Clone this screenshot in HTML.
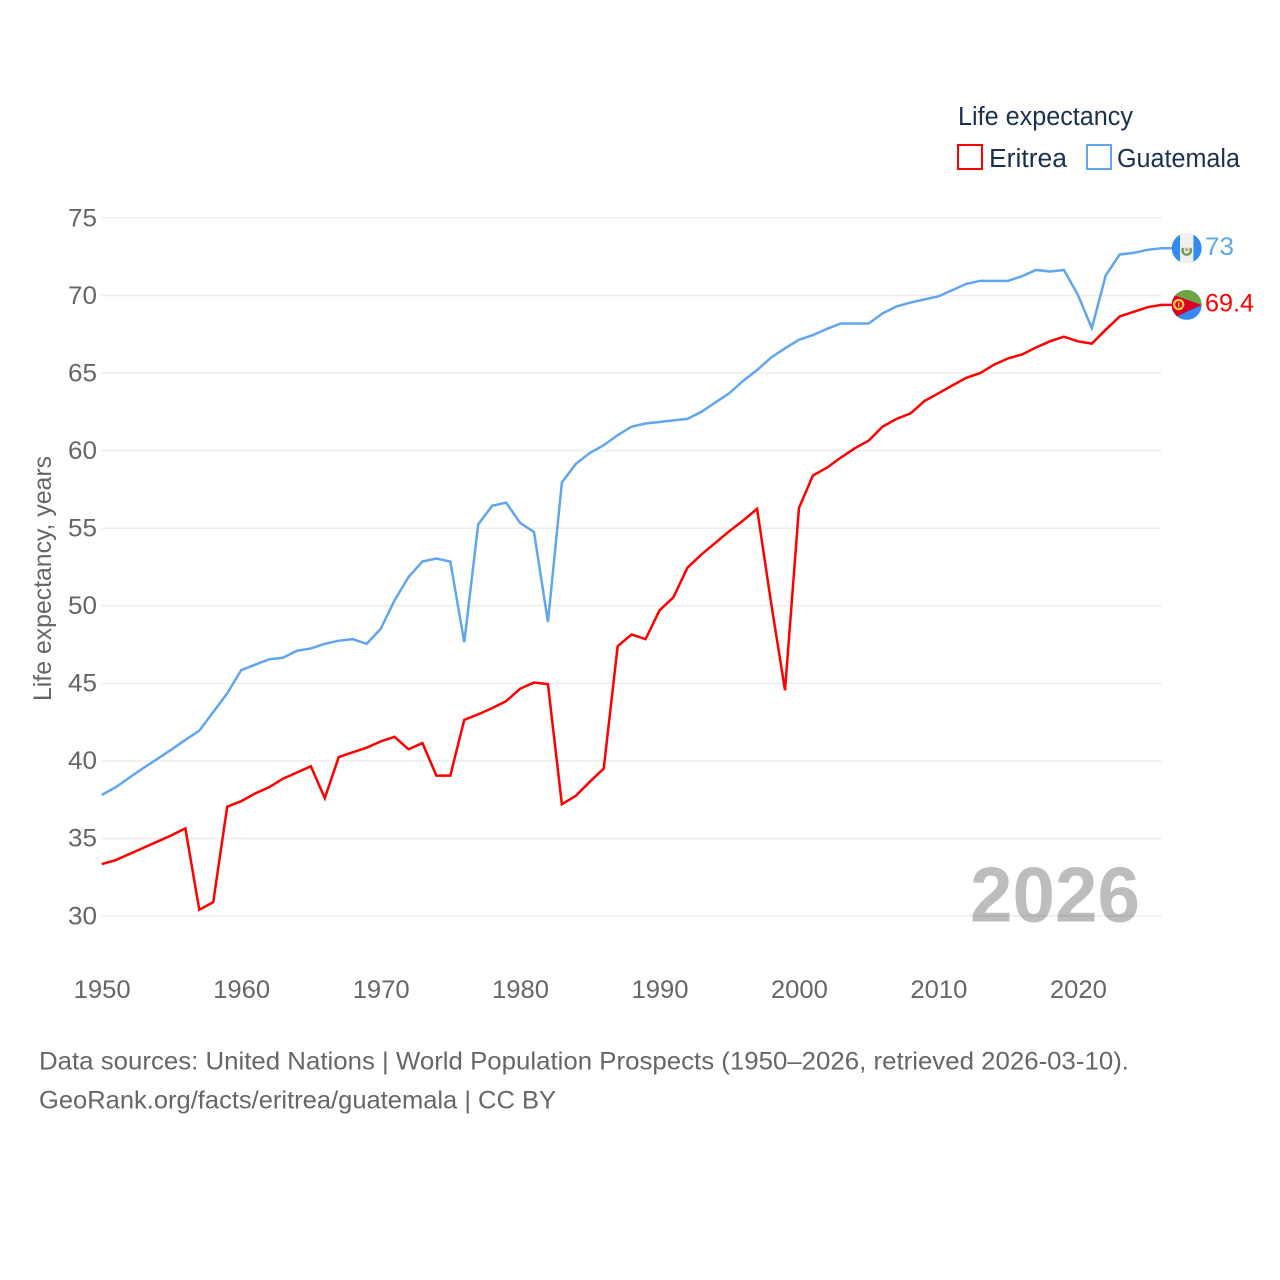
<!DOCTYPE html>
<html lang="en">
<head>
<meta charset="utf-8">
<title>Life expectancy: Eritrea and Guatemala</title>
<style>
html,body{margin:0;padding:0;background:#fff;width:1280px;height:1280px;overflow:hidden}
svg{display:block}
text{font-family:"Liberation Sans",sans-serif}
</style>
</head>
<body>
<svg id="chart" xmlns="http://www.w3.org/2000/svg" width="1280" height="1280" viewBox="0 0 1280 1280">
  <defs>
    <clipPath id="flag-clip"><circle cx="0" cy="0" r="15"/></clipPath>
  </defs>
  <text x="970" y="921.5" font-size="78" font-weight="700" fill="#bdbdbd" textLength="170" lengthAdjust="spacingAndGlyphs">2026</text>
  <g id="grid"></g>
  <g id="y-ticks"></g>
  <g id="x-ticks"></g>
  <text transform="translate(51,701) rotate(-90)" font-size="25" fill="#666" textLength="245" lengthAdjust="spacingAndGlyphs">Life expectancy, years</text>
  <g id="series"></g>
  <g id="flag-guatemala">
    <g clip-path="url(#flag-clip)">
      <rect x="-15" y="-15" width="30" height="30" fill="#338af3"/>
      <rect x="-6.7" y="-15" width="13.4" height="30" fill="#f0f0f0"/>
      <path d="M -3.4 -1.8 A 4.2 4.2 0 1 0 3.4 -1.8" transform="translate(0,1.6)" fill="none" stroke="#6f9a4e" stroke-width="2.4"/>
      <circle cx="0" cy="1.4" r="2" fill="#b9b48e"/>
    </g>
  </g>
  <g id="flag-eritrea">
    <g clip-path="url(#flag-clip)">
      <rect x="-15" y="-15" width="30" height="15" fill="#6da544"/>
      <rect x="-15" y="0" width="30" height="15" fill="#338af3"/>
      <polygon points="-15,-10.6 15,0 -15,14" fill="#d80027"/>
      <circle cx="-8" cy="-0.3" r="4.6" fill="none" stroke="#ffca3a" stroke-width="2.2"/>
      <rect x="-8.7" y="-2.8" width="1.4" height="5" fill="#ffca3a"/>
    </g>
  </g>
  <g id="end-labels"></g>
  <g>
    <text x="958" y="125" font-size="25.5" fill="#1a3050" textLength="175" lengthAdjust="spacingAndGlyphs">Life expectancy</text>
    <g>
      <rect x="958" y="145" width="24" height="24" fill="#fff" stroke="#ff0000" stroke-width="2"/>
      <text x="989" y="167" font-size="25.5" fill="#1a3050" textLength="78" lengthAdjust="spacingAndGlyphs">Eritrea</text>
    </g>
    <g>
      <rect x="1087" y="145" width="24" height="24" fill="#fff" stroke="#60a6ef" stroke-width="2"/>
      <text x="1117" y="167" font-size="25.5" fill="#1a3050" textLength="123" lengthAdjust="spacingAndGlyphs">Guatemala</text>
    </g>
  </g>
  <g>
    <text x="39" y="1069.5" font-size="25" fill="#666" textLength="1090" lengthAdjust="spacingAndGlyphs">Data sources: United Nations | World Population Prospects (1950–2026, retrieved 2026-03-10).</text>
    <text x="39" y="1108.5" font-size="25" fill="#666" textLength="517" lengthAdjust="spacingAndGlyphs">GeoRank.org/facts/eritrea/guatemala | CC BY</text>
  </g>
</svg>
<script>
const firstYear = 1950;
const xTickYears = [1950, 1960, 1970, 1980, 1990, 2000, 2010, 2020];
const yTickValues = [30, 35, 40, 45, 50, 55, 60, 65, 70, 75];
const eritreaValues = [33.35,33.6,34.0,34.4,34.8,35.2,35.65,30.4,30.9,37.05,37.4,37.9,38.3,38.85,39.25,39.65,37.6,40.25,40.55,40.85,41.25,41.55,40.75,41.15,39.05,39.05,42.65,43.0,43.4,43.85,44.65,45.05,44.95,37.2,37.75,38.65,39.5,47.4,48.15,47.85,49.7,50.55,52.45,53.3,54.05,54.8,55.5,56.25,50.2,44.55,56.3,58.4,58.9,59.55,60.15,60.65,61.55,62.05,62.4,63.2,63.7,64.2,64.7,65.0,65.55,65.95,66.2,66.65,67.05,67.35,67.05,66.9,67.8,68.65,68.95,69.25,69.4];
const guatemalaValues = [37.8,38.3,38.93,39.55,40.13,40.73,41.35,41.95,43.15,44.35,45.85,46.2,46.55,46.65,47.1,47.25,47.55,47.75,47.85,47.55,48.5,50.35,51.85,52.85,53.05,52.85,47.65,55.25,56.45,56.65,55.35,54.75,48.95,57.95,59.15,59.85,60.35,61.0,61.55,61.75,61.85,61.95,62.05,62.5,63.1,63.7,64.5,65.2,66.0,66.6,67.15,67.45,67.85,68.2,68.2,68.2,68.85,69.3,69.55,69.75,69.95,70.35,70.75,70.95,70.95,70.95,71.25,71.65,71.55,71.65,70.05,67.9,71.3,72.65,72.75,72.95,73.05];
const endLabelEritrea = "69.4";
const endLabelGuatemala = "73";

const NS = "http://www.w3.org/2000/svg";
const plotLeft = 101.7, plotRight = 1161.5;
const xScale = function (year) { return plotLeft + (year - 1950) * 13.945; };
const yScale = function (v) { return 916 - (v - 30) * (916 - 218) / 45; };
const make = function (tag, parent) {
  const el = document.createElementNS(NS, tag);
  parent.appendChild(el);
  return el;
};

const gridG = document.getElementById("grid");
const yG = document.getElementById("y-ticks");
yTickValues.forEach(function (v) {
  const line = make("line", gridG);
  
  
  line.setAttribute("x1", plotLeft);
  line.setAttribute("x2", plotRight);
  line.setAttribute("y1", yScale(v).toFixed(2));
  line.setAttribute("y2", yScale(v).toFixed(2));
  line.setAttribute("stroke", "#000");
  line.setAttribute("stroke-opacity", "0.07");
  line.setAttribute("stroke-width", "1.5");
  const t = make("text", yG);
  
  
  t.setAttribute("x", 68);
  t.setAttribute("y", yScale(v) + 8.3);
  t.setAttribute("font-size", "25");
  t.setAttribute("fill", "#666");
  t.setAttribute("textLength", "29");
  t.setAttribute("lengthAdjust", "spacingAndGlyphs");
  t.textContent = String(v);
});

const xG = document.getElementById("x-ticks");
xTickYears.forEach(function (y) {
  const t = make("text", xG);
  
  
  t.setAttribute("x", xScale(y) + 0.5 - 28.5);
  t.setAttribute("y", 998);
  t.setAttribute("font-size", "25");
  t.setAttribute("fill", "#666");
  t.setAttribute("textLength", "57");
  t.setAttribute("lengthAdjust", "spacingAndGlyphs");
  t.textContent = String(y);
});

const seriesG = document.getElementById("series");
const buildPoints = function (values) {
  const pts = values.map(function (v, i) {
    return xScale(firstYear + i).toFixed(2) + "," + yScale(v).toFixed(2);
  });
  pts.push("1172," + yScale(values[values.length - 1]).toFixed(2));
  return pts.join(" ");
};

const lineGuatemala = make("polyline", seriesG);


lineGuatemala.setAttribute("points", buildPoints(guatemalaValues));
lineGuatemala.setAttribute("fill", "none");
lineGuatemala.setAttribute("stroke", "#60a6ef");
lineGuatemala.setAttribute("stroke-width", "2.5");

const lineEritrea = make("polyline", seriesG);


lineEritrea.setAttribute("points", buildPoints(eritreaValues));
lineEritrea.setAttribute("fill", "none");
lineEritrea.setAttribute("stroke", "#ff0000");
lineEritrea.setAttribute("stroke-width", "2.5");

const lastE = yScale(eritreaValues[eritreaValues.length - 1]);
const lastG = yScale(guatemalaValues[guatemalaValues.length - 1]);
document.getElementById("flag-guatemala").setAttribute("transform", "translate(1186.7," + lastG.toFixed(2) + ")");
document.getElementById("flag-eritrea").setAttribute("transform", "translate(1186.7," + lastE.toFixed(2) + ")");

const endG = document.getElementById("end-labels");
const labelG = make("text", endG);


labelG.setAttribute("x", 1205);
labelG.setAttribute("y", lastG + 6.7);
labelG.setAttribute("font-size", "25");
labelG.setAttribute("fill", "#60a6ef");
labelG.setAttribute("textLength", "29");
labelG.setAttribute("lengthAdjust", "spacingAndGlyphs");
labelG.textContent = endLabelGuatemala;

const labelE = make("text", endG);


labelE.setAttribute("x", 1205);
labelE.setAttribute("y", lastE + 6.7);
labelE.setAttribute("font-size", "25");
labelE.setAttribute("fill", "#ff0000");
labelE.setAttribute("textLength", "49");
labelE.setAttribute("lengthAdjust", "spacingAndGlyphs");
labelE.textContent = endLabelEritrea;
</script>
</body>
</html>
